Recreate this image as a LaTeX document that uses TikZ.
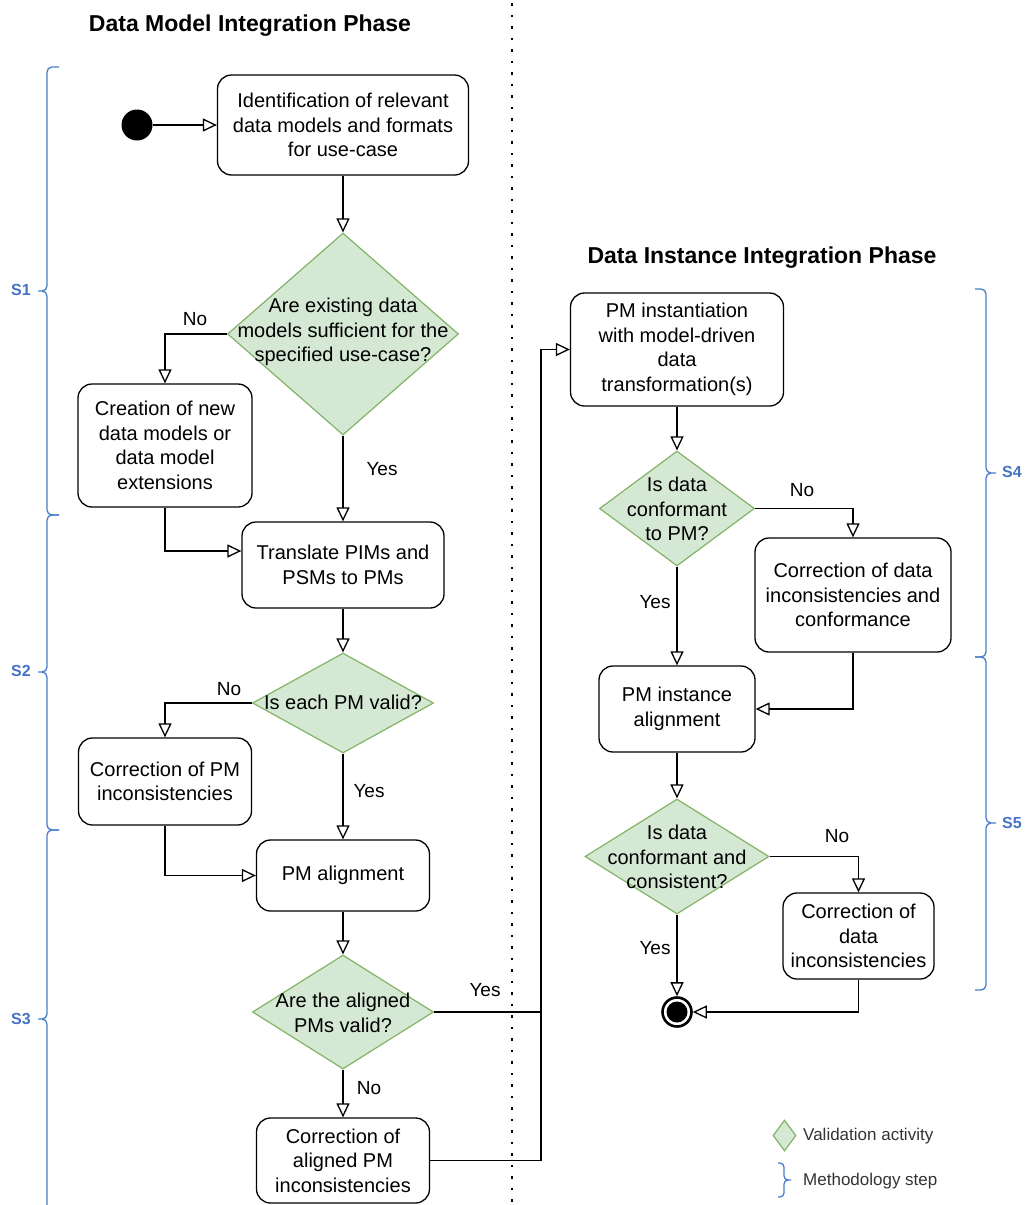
\documentclass[tikz,border=0pt]{standalone}
\usepackage{fontspec}
\setmainfont{Liberation Sans}
\usetikzlibrary{arrows.meta,shapes.geometric}
\definecolor{stepblue}{RGB}{74,126,200}
\definecolor{labblue}{RGB}{68,114,196}
\definecolor{diafill}{HTML}{D5E8D4}
\definecolor{diadraw}{HTML}{82B366}
\begin{document}
\begin{tikzpicture}[x=1pt,y=-1pt,
  box/.style={draw=black, line width=1.3pt, rounded corners=14pt, fill=white, align=center, inner sep=0pt,
    font=\fontsize{20pt}{24.5pt}\selectfont},
  dia/.style={diamond, draw=diadraw, fill=diafill, line width=1.2pt, inner sep=0pt},
  diatext/.style={align=center, inner sep=0pt, font=\fontsize{20pt}{24.5pt}\selectfont},
  elab/.style={inner sep=0pt, font=\fontsize{19pt}{23pt}\selectfont},
  arr/.style={draw=black, line width=1.3pt, -{Triangle[open,length=14pt,width=13pt]}},
  plain/.style={draw=black, line width=1.3pt},
  stepbrace/.style={draw=stepblue, line width=1.3pt, rounded corners=5pt},
  slab/.style={text=labblue, font=\fontsize{16pt}{18pt}\selectfont\bfseries, inner sep=0pt},
  title/.style={font=\fontsize{23pt}{26pt}\selectfont\bfseries, inner sep=0pt}
]
\useasboundingbox (0,0) rectangle (1025,1205);

% phase divider
\draw[black, line width=2.6pt, dash pattern=on 2.6pt off 8.9pt] (512,3) -- (512,1205);

% titles
\node[title] (t1) at (250,26) {Data Model Integration Phase};
\node[title] (t2) at (762,258) {Data Instance Integration Phase};

% methodology step braces (left)
\draw[stepbrace] (59,67) -- (47,67) -- (47,291) -- (38,291) (38,291) -- (47,291) -- (47,515) -- (59,515);
\draw[stepbrace] (59,515) -- (47,515) -- (47,672) -- (38,672) (38,672) -- (47,672) -- (47,830) -- (59,830);
\draw[stepbrace] (59,830) -- (47,830) -- (47,1019) -- (38,1019) (38,1019) -- (47,1019) -- (47,1212) -- (59,1212);
% methodology step braces (right)
\draw[stepbrace] (975,289) -- (986,289) -- (986,473) -- (996,473) (996,473) -- (986,473) -- (986,657) -- (975,657);
\draw[stepbrace] (975,657) -- (986,657) -- (986,823) -- (996,823) (996,823) -- (986,823) -- (986,990) -- (975,990);
\node[slab] (s1) at (21,290) {S1};
\node[slab] (s2) at (21,671) {S2};
\node[slab] (s3) at (21,1019) {S3};
\node[slab] (s4) at (1012,472) {S4};
\node[slab] (s5) at (1012,823) {S5};

% left column
\node[circle, fill=black, minimum size=31pt, inner sep=0pt] (start) at (137,125) {};
\node[box, minimum width=251pt, minimum height=100pt] (n1) at (343,125)
  {Identification of relevant\\data models and formats\\for use-case};
\node[dia, minimum width=231pt, minimum height=202pt] (d1) at (343,334) {};
\node[diatext] (d1t) at (343,332) {Are existing data\\models sufficient for the\\specified use-case?};
\node[box, minimum width=174pt, minimum height=123pt] (n2) at (165,445.5)
  {Creation of new\\data models or\\data model\\extensions};
\node[box, minimum width=202pt, minimum height=86pt] (n3) at (343,565)
  {Translate PIMs and\\PSMs to PMs};
\node[dia, minimum width=181pt, minimum height=100pt] (d2) at (343,703) {};
\node[diatext] (d2t) at (343,702) {Is each PM valid?};
\node[box, minimum width=173pt, minimum height=87pt] (n4) at (165,781.5)
  {Correction of PM\\inconsistencies};
\node[box, minimum width=173pt, minimum height=71pt] (n5) at (343,875.5)
  {PM alignment};
\node[dia, minimum width=181pt, minimum height=114pt] (d3) at (343,1012) {};
\node[diatext] (d3t) at (343,1013) {Are the aligned\\PMs valid?};
\node[box, minimum width=173pt, minimum height=85pt] (n7) at (343,1160.5)
  {Correction of\\aligned PM\\inconsistencies};

% right column
\node[box, minimum width=213pt, minimum height=113pt] (n6) at (677,349.5)
  {PM instantiation\\with model-driven\\data\\transformation(s)};
\node[dia, minimum width=155pt, minimum height=115pt] (d4) at (677,508.5) {};
\node[diatext] (d4t) at (677,509) {Is data\\conformant\\to PM?};
\node[box, minimum width=196pt, minimum height=114pt] (n8) at (853,595)
  {Correction of data\\inconsistencies and\\conformance};
\node[box, minimum width=156pt, minimum height=86pt] (n9) at (677,709)
  {PM instance\\alignment};
\node[dia, minimum width=184pt, minimum height=115pt] (d5) at (677,856.5) {};
\node[diatext] (d5t) at (677,857) {Is data\\conformant and\\consistent?};
\node[box, minimum width=151pt, minimum height=86pt] (n10) at (858.5,936)
  {Correction of\\data\\inconsistencies};
\node[circle, draw=black, line width=2.6pt, fill=white, minimum size=29pt, inner sep=0pt] (end) at (677,1012) {};
\node[circle, fill=black, minimum size=21pt, inner sep=0pt] (endin) at (677,1012) {};

% connectors
\coordinate (jc) at (541,1012);
\draw[arr] (start) -- (n1);
\draw[arr] (n1) -- (d1);
\draw[arr] (d1.west) -| (n2.north);
\draw[arr] (d1.south) -- (n3.north);
\draw[arr] (n2.south) |- ([yshift=14pt]n3.west);
\draw[arr] (n3) -- (d2);
\draw[arr] (d2.west) -| (n4.north);
\draw[arr] (d2.south) -- (n5.north);
\draw[arr] (n4.south) |- (n5.west);
\draw[arr] (n5) -- (d3);
\draw[arr] (d3.south) -- (n7.north);
\draw[arr] (d3.east) -- (jc) |- (n6.west);
\draw[plain] (n7.east) -| (jc);
\draw[arr] (n6) -- (d4);
\draw[arr] (d4.east) -| (n8.north);
\draw[arr] (d4.south) -- (n9.north);
\draw[arr] (n8.south) |- (n9.east);
\draw[arr] (n9) -- (d5);
\draw[arr] (d5.east) -| (n10.north);
\draw[arr] (d5.south) -- (end.north);
\draw[arr] (n10.south) |- (end.east);

% edge labels
\node[elab] (l1) at (195,319) {No};
\node[elab] (l2) at (382,469) {Yes};
\node[elab] (l3) at (229,689) {No};
\node[elab] (l4) at (369,791) {Yes};
\node[elab] (l5) at (485,990) {Yes};
\node[elab] (l6) at (369,1088) {No};
\node[elab] (l7) at (802,490) {No};
\node[elab] (l8) at (655,602) {Yes};
\node[elab] (l9) at (837,836) {No};
\node[elab] (l10) at (655,948) {Yes};

% legend
\node[dia, minimum width=23pt, minimum height=31pt] (legd) at (784.5,1135.5) {};
\node[anchor=west, inner sep=0pt, text=black!80, font=\fontsize{17pt}{20pt}\selectfont] (legdt) at (803,1136) {Validation activity};
\draw[stepbrace, rounded corners=4pt] (778,1163) -- (784,1163) -- (784,1180) -- (791,1180) (791,1180) -- (784,1180) -- (784,1197) -- (778,1197);
\node[anchor=west, inner sep=0pt, text=black!80, font=\fontsize{17pt}{20pt}\selectfont] (legbt) at (803,1181) {Methodology step};
\end{tikzpicture}
\end{document}
